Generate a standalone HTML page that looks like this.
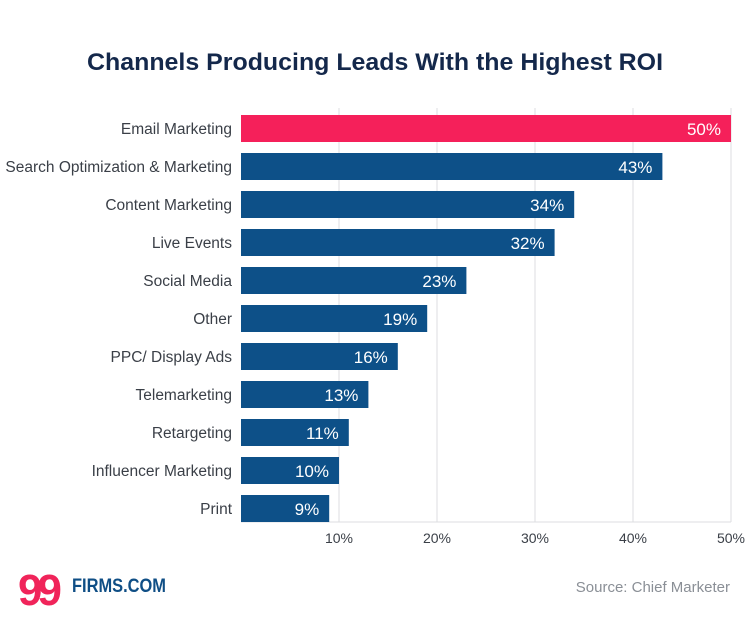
<!DOCTYPE html>
<html><head><meta charset="utf-8"><style>
body{margin:0;background:#fff;width:750px;height:625px;overflow:hidden;font-family:"Liberation Sans",sans-serif}
</style></head><body>
<svg width="750" height="625" xmlns="http://www.w3.org/2000/svg">
<text x="375" y="70" text-anchor="middle" font-size="24" font-weight="bold" fill="#14284b" textLength="576" lengthAdjust="spacingAndGlyphs">Channels Producing Leads With the Highest ROI</text>
<g id="grid"></g><g id="bars"></g><g id="ticks"></g>
<g>
<text x="18" y="605" font-size="44" font-weight="bold" fill="#f0245a" letter-spacing="-5">99</text>
<text x="72" y="592" font-size="19" font-weight="bold" fill="#0f4e85" textLength="94" lengthAdjust="spacingAndGlyphs">FIRMS.COM</text>
</g>
<text x="730" y="592" text-anchor="end" font-size="15" fill="#8a8f96">Source: Chief Marketer</text>
</svg>
<script>
const categories=["Email Marketing","Search Optimization & Marketing","Content Marketing","Live Events","Social Media","Other","PPC/ Display Ads","Telemarketing","Retargeting","Influencer Marketing","Print"];
const values=[50,43,34,32,23,19,16,13,11,10,9];
const tickValues=[10,20,30,40,50];
const tickLabels=["10%","20%","30%","40%","50%"];
const NS="http://www.w3.org/2000/svg";
const x=v=>241+v*9.8;
const y=i=>115+i*38;
function mk(t,a,p){const e=document.createElementNS(NS,t);for(const k in a)e.setAttribute(k,a[k]);p.appendChild(e);return e;}
const grid=document.getElementById('grid'),bars=document.getElementById('bars'),ticks=document.getElementById('ticks');
tickValues.forEach((v,i)=>{
 const l=mk('line',{x1:x(v),x2:x(v),y1:108,y2:522,stroke:'#dcdde0','stroke-width':1},grid);
 
 
 const t=mk('text',{x:x(v),y:543,'text-anchor':'middle','font-size':14,fill:'#3a3f47'},ticks);
 t.textContent=tickLabels[i];
 
 
});
const ax=mk('line',{x1:241,x2:731,y1:522,y2:522,stroke:'#dcdde0','stroke-width':1},grid);


categories.forEach((c,i)=>{
 const r=mk('rect',{x:x(0),y:y(i),width:x(values[i])-x(0),height:27,fill:i===0?'#f5205a':'#0d5088'},bars);
 
 
 const vl=mk('text',{x:x(values[i])-10,y:y(i)+20,'text-anchor':'end','font-size':17,fill:'#fff'},bars);
 vl.textContent=values[i]+'%';
 
 
 const cl=mk('text',{x:232,y:y(i)+19,'text-anchor':'end','font-size':15.5,fill:'#3a3f47'},bars);
 cl.textContent=c;
 
 
});
</script>
</body></html>
